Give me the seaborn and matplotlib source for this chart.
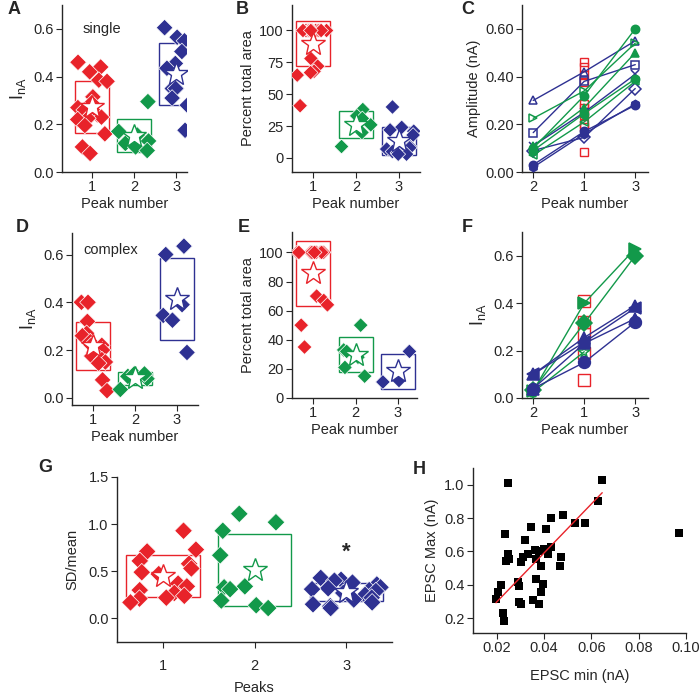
import numpy as np
import pandas as pd
import seaborn as sns
import matplotlib.pyplot as plt
from matplotlib.patches import Rectangle

sns.set_style('ticks')
plt.rcParams['font.family'] = ['Liberation Sans', 'DejaVu Sans']
plt.rcParams['font.size'] = 10
plt.rcParams['mathtext.fontset'] = 'custom'
plt.rcParams['mathtext.rm'] = 'Liberation Sans'
plt.rcParams['axes.linewidth'] = 1
plt.rcParams['xtick.major.size'] = 4
plt.rcParams['ytick.major.size'] = 4
np.random.seed(7)

RED = '#E8232A'
GREEN = '#12994A'
BLUE = '#2E3192'
peak_colors = [RED, GREEN, BLUE]
peaks = ['1', '2', '3']

# A: single events, amplitude (nA)
a_peak1 = [0.46, 0.44, 0.42, 0.385, 0.38, 0.315, 0.29, 0.27, 0.26, 0.24, 0.24,
           0.23, 0.225, 0.22, 0.195, 0.16, 0.105, 0.078]
a_peak2 = [0.295, 0.17, 0.155, 0.13, 0.12, 0.105, 0.09]
a_peak3 = [0.605, 0.565, 0.55, 0.505, 0.455, 0.435, 0.35, 0.35, 0.35, 0.31, 0.28, 0.175]

# B: single events, percent total area
b_peak1 = [100, 100, 100, 100, 100, 100, 100, 100, 100, 100, 100, 100, 100, 100,
           78, 72, 68, 67, 65, 41]
b_peak2 = [38, 33, 31, 26, 20, 9]
b_peak3 = [40, 24, 22, 21, 18, 9, 8, 8, 7, 5, 4, 3, 3]

# D: complex events, amplitude (nA)
d_peak1 = [0.40, 0.40, 0.32, 0.27, 0.26, 0.235, 0.22, 0.22, 0.20, 0.19, 0.175,
           0.16, 0.15, 0.145, 0.075, 0.03]
d_peak2 = [0.035, 0.08, 0.09, 0.10, 0.10]
d_peak3 = [0.635, 0.60, 0.39, 0.345, 0.325, 0.19]

# E: complex events, percent total area
e_peak1 = [100, 100, 100, 100, 100, 100, 100, 100, 100, 100, 70, 67, 64, 50, 35]
e_peak2 = [50, 33, 32, 28, 21, 15]
e_peak3 = [32, 11, 12]

# G: SD/mean per peak
g_peak1 = [0.93, 0.73, 0.71, 0.61, 0.58, 0.53, 0.49, 0.47, 0.37, 0.34, 0.30,
           0.27, 0.24, 0.22, 0.21, 0.17]
g_peak2 = [1.11, 1.02, 0.93, 0.67, 0.34, 0.33, 0.31, 0.19, 0.14, 0.11]
g_peak3 = [0.41, 0.43, 0.40, 0.38, 0.36, 0.33, 0.32, 0.31, 0.30, 0.29, 0.27,
           0.25, 0.22, 0.20, 0.17, 0.15, 0.13, 0.11]

# C / F: paired amplitudes, x order is peak 2, 1, 3
pair_order = ['2', '1', '3']
c_cells = [
    # color, marker, filled, values at peak 2, 1, 3
    (BLUE, '^', False, [0.30, 0.42, 0.55]),
    (BLUE, 's', False, [0.165, 0.38, 0.45]),
    (BLUE, 'x', True, [0.11, 0.25, 0.41]),
    (BLUE, 'D', False, [0.09, 0.145, 0.35]),
    (BLUE, 'o', True, [0.03, 0.17, 0.28]),
    (BLUE, 'h', True, [0.02, 0.16, 0.285]),
    (GREEN, 'o', True, [0.10, 0.32, 0.60]),
    (GREEN, '>', False, [0.225, 0.34, 0.54]),
    (GREEN, '^', True, [0.11, 0.27, 0.50]),
    (GREEN, 'o', True, [0.09, 0.245, 0.39]),
    (GREEN, '<', False, [0.07, 0.21, 0.38]),
]
c_single_peak1 = [0.46, 0.44, 0.405, 0.377, 0.286, 0.27, 0.237, 0.20, 0.19, 0.084]

f_cells = [
    (GREEN, '>', True, [0.03, 0.40, 0.63]),
    (GREEN, 'D', True, [0.035, 0.315, 0.60]),
    (GREEN, '*', False, [0.025, 0.195, np.nan]),
    (BLUE, '^', True, [0.10, 0.255, 0.39]),
    (BLUE, '<', True, [0.10, 0.235, 0.38]),
    (BLUE, 'o', True, [0.04, 0.15, 0.32]),
    (BLUE, '^', True, [0.04, 0.23, 0.335]),
]
f_single_peak1 = [0.41, 0.32, 0.27, 0.19, 0.074]

# H: EPSC min vs max (nA)
h_min = [0.0247, 0.0646, 0.0629, 0.0575, 0.0530, 0.048, 0.0428, 0.041, 0.0346,
         0.0237, 0.0318, 0.0969, 0.0247, 0.025, 0.024, 0.031, 0.0332, 0.036,
         0.038, 0.040, 0.0431, 0.0417, 0.0367, 0.0303, 0.0388, 0.0473, 0.0466,
         0.0367, 0.0395, 0.0388, 0.0289, 0.0296, 0.0218, 0.0204, 0.0197, 0.0296,
         0.0303, 0.0353, 0.0378, 0.0225, 0.0233]
h_max = [1.01, 1.026, 0.90, 0.772, 0.772, 0.816, 0.80, 0.732, 0.746, 0.706, 0.67,
         0.71, 0.586, 0.556, 0.542, 0.566, 0.586, 0.606, 0.602, 0.616, 0.626,
         0.586, 0.556, 0.536, 0.51, 0.566, 0.51, 0.436, 0.406, 0.356, 0.416, 0.39,
         0.40, 0.356, 0.316, 0.296, 0.286, 0.306, 0.282, 0.23, 0.182]
# regression line as drawn in the figure (slope, intercept)
h_fit = (14.7, 0.002)

W, H = 700, 694
fig = plt.figure(figsize=(7, 6.94), dpi=100)


def add_ax(x0, y0, x1, y1):
    ax = fig.add_axes([x0 / W, 1 - y1 / H, (x1 - x0) / W, (y1 - y0) / H])
    sns.despine(ax=ax)
    ax.tick_params(labelsize=10.5, pad=2)
    return ax


def strip_panel(ax, groups, size=8.5):
    df = pd.DataFrame({'peak': np.repeat(peaks, [len(g) for g in groups]),
                       'value': np.concatenate(groups)})
    sns.stripplot(data=df, x='peak', y='value', hue='peak', order=peaks,
                  hue_order=peaks, palette=peak_colors, marker='D', size=size,
                  jitter=0.38, linewidth=0.5, edgecolor='white', legend=False,
                  ax=ax, zorder=3)
    stats = df.groupby('peak')['value'].agg(['mean', 'std'])
    for i, p in enumerate(peaks):
        m, s = stats.loc[p, 'mean'], stats.loc[p, 'std']
        ax.add_patch(Rectangle((i - 0.4, m - s), 0.8, 2 * s, fill=False,
                               edgecolor=peak_colors[i], lw=1, zorder=2))
        ax.plot(i, m, marker='*', ms=18, mfc='white', mec=peak_colors[i],
                mew=1, zorder=5)
    ax.set_xlabel('Peak number', fontsize=10.5, labelpad=2)


def pair_panel(ax, cells, singles, ms):
    for color, marker, filled, vals in cells:
        ax.plot(pair_order, vals, color=color, lw=1, marker=marker, ms=ms,
                mfc=color if filled else 'none', mec=color, mew=1.1, zorder=3)
    ax.plot(['1'] * len(singles), singles, ls='none', marker='s', ms=ms,
            mfc='none', mec=RED, mew=1, zorder=2)
    ax.set_xlim(-0.22, 2.25)
    ax.set_xlabel('Peak number', fontsize=10.5, labelpad=2)


def letter(x, y, s):
    fig.text(x / W, 1 - y / H, s, fontsize=13, fontweight='bold', va='center', ha='left')


inA = r'I$_{\rm nA}$'

# A
ax = add_ax(62, 5, 187, 172)
strip_panel(ax, [a_peak1, a_peak2, a_peak3])
ax.set_xlim(-0.7, 2.25)
ax.set_ylim(0, 0.7)
ax.set_yticks([0.0, 0.2, 0.4, 0.6])
ax.set_yticklabels(['0.0', '0.2', '0.4', '0.6'])
ax.set_ylabel(inA, fontsize=13, labelpad=4)
ax.text(-0.22, 0.6, 'single', fontsize=10.5, va='center')

# B
ax = add_ax(292, 5, 420, 172)
strip_panel(ax, [b_peak1, b_peak2, b_peak3], size=7.5)
ax.set_xlim(-0.5, 2.5)
ax.set_ylim(-11, 120)
ax.set_yticks([0, 25, 50, 75, 100])
ax.set_ylabel('Percent total area', fontsize=10.5, labelpad=3)

# C
ax = add_ax(522, 5, 648, 172)
pair_panel(ax, c_cells, c_single_peak1, ms=6)
ax.set_ylim(0, 0.7)
ax.set_yticks([0.0, 0.2, 0.4, 0.6])
ax.set_yticklabels(['0.00', '0.20', '0.40', '0.60'])
ax.set_ylabel('Amplitude (nA)', fontsize=10.5, labelpad=3)

# D
ax = add_ax(72, 233, 198, 405)
strip_panel(ax, [d_peak1, d_peak2, d_peak3])
ax.set_xlim(-0.5, 2.5)
ax.set_ylim(-0.03, 0.69)
ax.set_yticks([0.0, 0.2, 0.4, 0.6])
ax.set_yticklabels(['0.0', '0.2', '0.4', '0.6'])
ax.set_ylabel(inA, fontsize=13, labelpad=4)
ax.text(-0.22, 0.62, 'complex', fontsize=10.5, va='center')

# E
ax = add_ax(292, 232, 417, 398)
strip_panel(ax, [e_peak1, e_peak2, e_peak3], size=7.5)
ax.set_xlim(-0.5, 2.45)
ax.set_ylim(0, 114)
ax.set_yticks([0, 20, 40, 60, 80, 100])
ax.set_ylabel('Percent total area', fontsize=10.5, labelpad=3)

# F
ax = add_ax(522, 232, 648, 398)
pair_panel(ax, f_cells, f_single_peak1, ms=8.5)
ax.set_ylim(0, 0.7)
ax.set_yticks([0.0, 0.2, 0.4, 0.6])
ax.set_yticklabels(['0.0', '0.2', '0.4', '0.6'])
ax.set_ylabel(inA, fontsize=13, labelpad=4)

# G
ax = add_ax(117, 477, 392, 642)
strip_panel(ax, [g_peak1, g_peak2, g_peak3], size=9)
ax.set_xlim(-0.5, 2.5)
ax.set_ylim(-0.25, 1.5)
ax.set_yticks([0.0, 0.5, 1.0, 1.5])
ax.set_ylabel('SD/mean', fontsize=10.5, labelpad=6)
ax.set_xlabel('Peaks', fontsize=10.5, labelpad=6)
ax.tick_params(axis='x', pad=8)
ax.text(2, 0.7, '*', fontsize=16, fontweight='bold', ha='center', va='center')

# H
ax = add_ax(473, 468, 686, 633)
sns.scatterplot(x=h_min, y=h_max, marker='s', s=32, color='black', linewidth=0, ax=ax)
fit_x = np.array([x for x in h_min if x < 0.08])
xs = np.array([fit_x.min(), fit_x.max()])
ax.plot(xs, h_fit[0] * xs + h_fit[1], color=RED, lw=1, zorder=3)
ax.set_xlim(0.01, 0.1)
ax.set_ylim(0.11, 1.1)
ax.set_xticks([0.02, 0.04, 0.06, 0.08, 0.10])
ax.set_xticklabels(['0.02', '0.04', '0.06', '0.08', '0.10'])
ax.set_yticks([0.2, 0.4, 0.6, 0.8, 1.0])
ax.set_yticklabels(['0.2', '0.4', '0.6', '0.8', '1.0'])
ax.set_xlabel('EPSC min (nA)', fontsize=10.5, labelpad=10)
ax.set_ylabel('EPSC Max (nA)', fontsize=10.5, labelpad=4)

letter(8, 9, 'A')
letter(236, 9, 'B')
letter(461, 9, 'C')
letter(16, 228, 'D')
letter(238, 228, 'E')
letter(462, 228, 'F')
letter(38, 468, 'G')
letter(413, 470, 'H')

fig.savefig('out.png', dpi=100)
